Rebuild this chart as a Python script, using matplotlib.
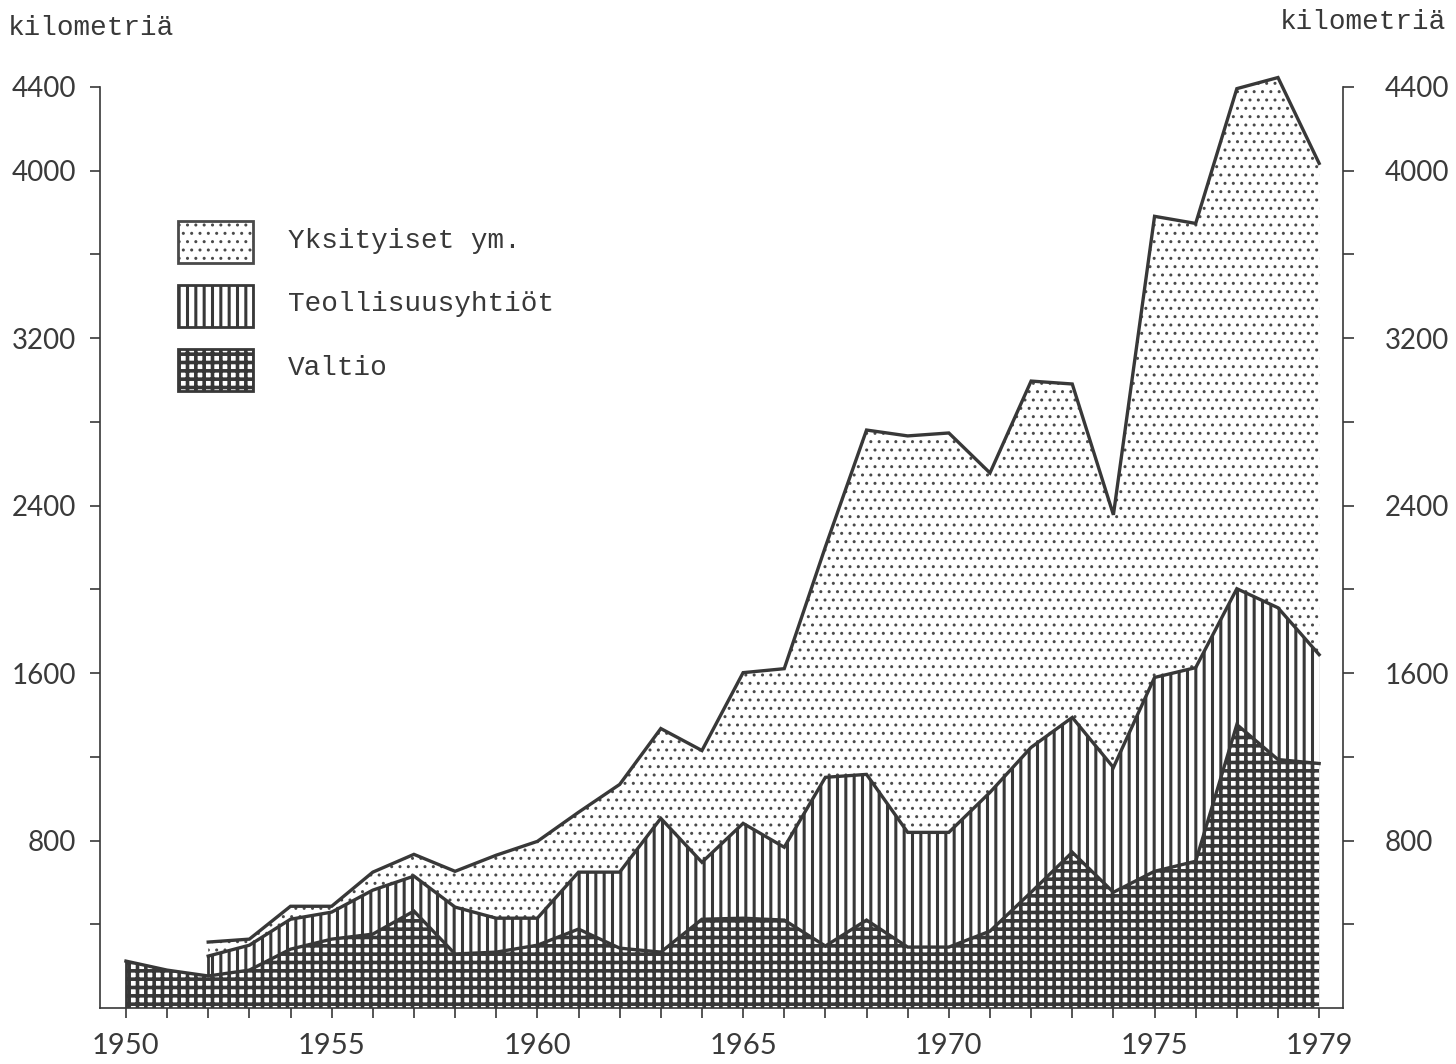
import numpy as np
import matplotlib
matplotlib.use("Agg")
import matplotlib.pyplot as plt
from matplotlib.patches import Rectangle

# values (kilometres per year)
years = list(range(1950, 1980))
valtio = [224, 181, 153, 181, 281, 329, 353, 463, 258, 267,
          300, 377, 286, 267, 424, 429, 420, 296, 420, 291,
          291, 367, 553, 744, 553, 653, 701, 1354, 1187, 1168]
teollisuus = [None, None, 95, 119, 143, 129, 210, 167, 224, 162,
              129, 272, 363, 639, 272, 453, 348, 806, 696, 548,
              548, 663, 692, 644, 596, 926, 925, 649, 725, 520]
yksityiset = [None, None, 67, 29, 62, 28, 86, 104, 171, 301,
              367, 286, 419, 429, 534, 720, 853, 1101, 1645, 1894,
              1908, 1526, 1750, 1593, 1207, 2203, 2122, 2389, 2533, 2347]
labels = ["Yksityiset ym.", "Teollisuusyhtiöt", "Valtio"]
year_labels = [1950, 1955, 1960, 1965, 1970, 1975, 1979]
y_ticks = list(range(400, 4401, 400))
y_labels = [800, 1600, 2400, 3200, 4000, 4400]
unit = "kilometriä"

plt.rcParams["font.family"] = ["Lato", "DejaVu Sans"]

W, H = 1456, 1064
ink = "#383838"
mono = "Liberation Mono"

fig = plt.figure(figsize=(W / 100, H / 100), dpi=100)
# 0 at y=1008 px, 4400 at y=87 px; a little headroom above 4400
ax = fig.add_axes([100 / W, 1 - 1008 / H, 1243 / W, 933.6 / H])
ax.set_xlim(1949.37, 1979.58)
ax.set_ylim(0, 4460)

x = np.array(years)
v = np.array(valtio, float)
t = np.array([np.nan if a is None else a for a in teollisuus], float)
p = np.array([np.nan if a is None else a for a in yksityiset], float)
mid = v + t
top = mid + p

# hatch styles: dots, vertical stripes, dark grid
styles = [("..", 1.0, "#4a4a4a"), ("||", 2.2, ink), ("++", 2.6, ink)]


def hatched(make, hatch, hlw, color):
    with plt.rc_context({"hatch.linewidth": hlw}):
        art = make(hatch, color)
    if hasattr(art, "set_hatch_linewidth"):
        art.set_hatch_linewidth(hlw)
    return art


bands = [(mid, top), (v, mid), (np.zeros_like(v), v)]
for (lo, hi), (hatch, hlw, color) in zip(bands, styles):
    hatched(lambda h, c: ax.fill_between(x, lo, hi, facecolor="white", edgecolor=c,
                                         linewidth=0, hatch=h),
            hatch, hlw, color)

for line in (top, mid, v):
    ax.plot(x, line, color=ink, lw=2.4, solid_joinstyle="miter", zorder=3)
ax.vlines(x[0], 0, v[0], color=ink, lw=2.0, zorder=3)
ax.vlines(x[2], v[2], mid[2], color=ink, lw=2.0, zorder=3)

# axes
ax.spines["top"].set_visible(False)
ax.spines["right"].set_visible(False)
for s in ("left", "bottom"):
    ax.spines[s].set_color(ink)
    ax.spines[s].set_linewidth(1.2)
ax.spines["left"].set_bounds(0, 4400)

ax.set_xticks(years)
ax.set_xticklabels([str(y) if y in year_labels else "" for y in years])
ax.set_yticks(y_ticks)
ax.set_yticklabels([str(y) if y in y_labels else "" for y in y_ticks])
ax.tick_params(axis="x", direction="out", length=7, width=1.2, pad=11,
               labelsize=21, color=ink, labelcolor="#3a3a3a")
ax.tick_params(axis="y", direction="out", length=7, width=1.2, pad=10,
               labelsize=20, color=ink, labelcolor="#3a3a3a")

ax2 = ax.twinx()
ax2.set_ylim(0, 4460)
for s in ("top", "left", "bottom"):
    ax2.spines[s].set_visible(False)
ax2.spines["right"].set_color(ink)
ax2.spines["right"].set_linewidth(1.2)
ax2.spines["right"].set_bounds(0, 4400)
ax2.set_yticks(y_ticks)
ax2.set_yticklabels([str(y) if y in y_labels else "" for y in y_ticks])
ax2.tick_params(axis="y", direction="out", length=8, width=1.2, pad=22,
                labelsize=20, color=ink, labelcolor="#3a3a3a")

# legend
box_tops = [221, 285, 349]
text_y = [241, 304, 368]
for lab, top_px, ty, (hatch, hlw, color) in zip(labels, box_tops, text_y, styles):
    hatched(lambda h, c: fig.add_artist(Rectangle((178 / W, 1 - (top_px + 42) / H), 75 / W, 42 / H,
                                                  transform=fig.transFigure, facecolor="white",
                                                  edgecolor=c, lw=2.0, hatch=h)),
            hatch, hlw, color)
    fig.text(288 / W, 1 - ty / H, lab, family=mono, fontsize=20, va="center",
             ha="left", color=ink)

fig.text(8 / W, 1 - 28 / H, unit, family=mono, fontsize=20, va="center", ha="left",
         color=ink)
fig.text(1446 / W, 1 - 22 / H, unit, family=mono, fontsize=20, va="center", ha="right",
         color=ink)

fig.savefig("out.png", dpi=100, facecolor="white")
